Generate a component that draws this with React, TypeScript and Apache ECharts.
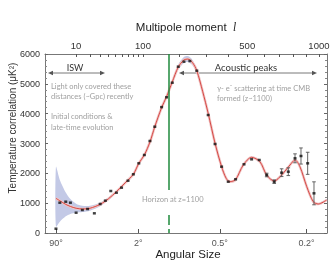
import React, { useEffect, useRef } from "react";
import * as echarts from "echarts";

// x position uses a power-law stretch of the multipole moment l
const P = 0.42;
const u = (l: number) => Math.pow(l, P);

const L_MIN = 0.34;
const L_MAX = 1069;
const Y_MIN = 0;
const Y_MAX = 6000;

// theory curve
const curveL = [2, 3, 5, 7, 10, 14, 20, 30, 40, 51, 65, 80, 91, 103, 116, 128, 146, 160, 177, 196, 215, 229, 245, 262, 285, 308, 338, 368, 390, 408, 437, 478, 525, 574, 616, 665, 715, 774, 811, 848, 901, 953, 994, 1066];
const curveD = [1163, 1080, 960, 890, 830, 805, 830, 960, 1150, 1385, 1680, 1968, 2336, 2615, 3050, 3563, 4200, 4569, 5060, 5560, 5800, 5830, 5720, 5440, 4750, 4012, 3006, 2222, 1830, 1720, 1790, 2279, 2537, 2390, 1944, 1743, 1944, 2279, 2447, 2222, 1552, 1049, 972, 1106];
// cosmic variance band
const bandLow = [212, 380, 560, 640, 680, 700, 750, 900, 1100, 1345, 1640, 1930, 2300, 2580, 3015, 3525, 4160, 4520, 5000, 5470, 5700, 5730, 5630, 5370, 4700, 3975, 2975, 2195, 1805, 1695, 1765, 2250, 2505, 2360, 1915, 1715, 1915, 2250, 2415, 2190, 1520, 1020, 945, 1080];
const bandHigh = [2222, 1780, 1360, 1140, 980, 910, 910, 1020, 1200, 1425, 1720, 2006, 2372, 2650, 3085, 3600, 4240, 4620, 5120, 5650, 5900, 5930, 5810, 5510, 4800, 4050, 3037, 2250, 1855, 1745, 1815, 2308, 2570, 2420, 1973, 1771, 1973, 2308, 2480, 2255, 1585, 1078, 1000, 1132];

// measured points
const dataL = [2, 3, 5, 7, 10, 14, 18, 24, 30, 36, 43, 51, 59, 70, 80, 91, 103, 116, 128, 146, 160, 177, 196, 215, 236, 262, 308, 338, 368, 400, 437, 482, 525, 570, 616, 665, 715, 762, 811, 856, 908, 959];
const dataD = [144, 1016, 1049, 1016, 680, 771, 804, 660, 972, 1083, 1408, 1351, 1519, 1753, 1968, 2336, 2615, 3084, 3563, 4220, 4549, 5038, 5575, 5742, 5765, 5440, 3955, 2983, 2223, 1720, 1800, 2303, 2470, 2447, 1944, 1720, 2022, 2055, 2503, 2581, 2336, 1330];
const dataErr = [0, 0, 0, 0, 0, 0, 0, 0, 0, 0, 0, 0, 0, 0, 0, 0, 0, 0, 0, 0, 0, 0, 0, 0, 0, 0, 0, 0, 0, 0, 0, 0, 0, 0, 60, 60, 130, 130, 150, 270, 370, 385];

// axes
const topLabelL = [10, 100, 500, 1000];
const topTickL = [10, 20, 30, 40, 50, 60, 70, 80, 90, 100, 200, 300, 400, 500, 600, 700, 800, 900, 1000];
const bottomTickL = [2, 90, 360, 900];
const bottomTickLabels = ["90°", "2°", "0.5°", "0.2°"];
const horizonL = 166;
const horizonSolidEnd = 1441;
const horizonDashStart = 600;

const nearestIdx = (arr: number[], v: number) => {
  let best = 0;
  for (let i = 1; i < arr.length; i++) if (Math.abs(arr[i] - v) < Math.abs(arr[best] - v)) best = i;
  return best;
};

const arrow = (x1: number, x2: number, y: number, color: string) => [
  { type: "line", shape: { x1: x1 + 3, y1: y, x2: x2 - 3, y2: y }, style: { stroke: color, lineWidth: 0.8 } },
  { type: "polygon", shape: { points: [[x1, y], [x1 + 5, y - 2.2], [x1 + 5, y + 2.2]] }, style: { fill: color } },
  { type: "polygon", shape: { points: [[x2, y], [x2 - 5, y - 2.2], [x2 - 5, y + 2.2]] }, style: { fill: color } },
];

export default function App() {
  const ref = useRef<HTMLDivElement>(null);
  useEffect(() => {
    if (!ref.current) return;
    const chart = echarts.init(ref.current, null, { renderer: "svg" });
    const topLabelU = topLabelL.map(u);
    const bottomU = bottomTickL.map(u);
    const axisColor = "#777";
    const annFont = "Lato, 'Open Sans', sans-serif";
    const grey = "#a0a0a0";

    const option: any = {
      animation: false,
      grid: { left: 45, right: 5, top: 54, bottom: 27, containLabel: false, outerBoundsMode: "none" },
      xAxis: [
        {
          type: "value",
          position: "bottom",
          min: u(L_MIN),
          max: u(L_MAX),
          axisLine: { show: true, onZero: false, lineStyle: { color: axisColor, width: 1 } },
          axisTick: { show: true, inside: true, length: 4, customValues: bottomU, lineStyle: { color: "#555" } },
          axisLabel: {
            show: true,
            customValues: bottomU,
            formatter: (v: number) => bottomTickLabels[nearestIdx(bottomU, v)],
            color: "#555",
            fontSize: 9,
            fontFamily: "Liberation Sans, Arial, sans-serif",
            margin: 5,
          },
          splitLine: { show: false },
        },
        {
          type: "value",
          position: "top",
          min: u(L_MIN),
          max: u(L_MAX),
          axisLine: { show: true, onZero: false, lineStyle: { color: axisColor, width: 1 } },
          axisTick: { show: true, inside: true, length: 3, customValues: topTickL.map(u), lineStyle: { color: "#555" } },
          axisLabel: {
            show: true,
            customValues: topLabelU,
            formatter: (v: number) => String(topLabelL[nearestIdx(topLabelU, v)]),
            color: "#333",
            fontSize: 9.5,
            fontFamily: "Liberation Sans, Arial, sans-serif",
            margin: 4,
          },
          name: "Multipole moment  {i|l}",
          nameLocation: "middle",
          nameGap: 21,
          nameTextStyle: {
            color: "#222",
            fontSize: 11.5,
            fontFamily: "Liberation Sans, Arial, sans-serif",
            rich: { i: { fontStyle: "italic", fontSize: 11.5, fontFamily: "Liberation Serif, serif", color: "#222" } },
          },
          splitLine: { show: false },
        },
      ],
      yAxis: [
        {
          type: "value",
          position: "left",
          min: Y_MIN,
          max: Y_MAX,
          interval: 1000,
          axisLine: { show: true, lineStyle: { color: axisColor, width: 1 } },
          axisTick: { show: true, inside: true, length: 3, lineStyle: { color: "#666" } },
          minorTick: { show: true, splitNumber: 5, length: 2, lineStyle: { color: "#888" } },
          axisLabel: {
            color: "#333",
            fontSize: 9,
            fontFamily: "Liberation Sans, Arial, sans-serif",
            margin: 5,
            formatter: (v: number) => String(v),
          },
          splitLine: { show: false },
        },
        {
          type: "value",
          position: "right",
          min: Y_MIN,
          max: Y_MAX,
          interval: 1000,
          axisLine: { show: true, lineStyle: { color: axisColor, width: 1 } },
          axisTick: { show: true, inside: true, length: 3, lineStyle: { color: "#666" } },
          minorTick: { show: true, splitNumber: 5, length: 2, lineStyle: { color: "#888" } },
          axisLabel: { show: false },
          splitLine: { show: false },
        },
      ],
      series: [
        {
          type: "custom",
          name: "band",
          z: 1,
          silent: true,
          data: [[u(curveL[0]), bandLow[0]]],
          renderItem: (_params: any, api: any) => {
            const lower = curveL.map((l, i) => api.coord([u(l), bandLow[i]]));
            const upper = curveL.map((l, i) => api.coord([u(l), bandHigh[i]])).reverse();
            return {
              type: "polygon",
              shape: { points: lower.concat(upper), smooth: 0.25 },
              style: { fill: "#c3c9e6", stroke: "none" },
            };
          },
        },
        {
          type: "line",
          name: "halo",
          smooth: 0.3,
          symbol: "none",
          lineStyle: { color: "#f0c6c6", width: 2.6 },
          data: curveL.map((l, i) => [u(l), curveD[i]]),
          silent: true,
          z: 2,
        },
        {
          type: "line",
          name: "theory",
          smooth: 0.3,
          symbol: "none",
          lineStyle: { color: "#d23a35", width: 0.9 },
          data: curveL.map((l, i) => [u(l), curveD[i]]),
          silent: true,
          z: 3,
        },
        {
          type: "custom",
          name: "errors",
          z: 4,
          data: dataL
            .map((l, i) => [u(l), dataD[i] - dataErr[i], dataD[i] + dataErr[i]])
            .filter((_, i) => dataErr[i] > 0),
          renderItem: (_params: any, api: any) => {
            const x = api.value(0);
            const lo = api.coord([x, api.value(1)]);
            const hi = api.coord([x, api.value(2)]);
            const st = { stroke: "#555", lineWidth: 0.9 };
            return {
              type: "group",
              children: [
                { type: "line", shape: { x1: lo[0], y1: lo[1], x2: hi[0], y2: hi[1] }, style: st },
                { type: "line", shape: { x1: lo[0] - 1.8, y1: lo[1], x2: lo[0] + 1.8, y2: lo[1] }, style: st },
                { type: "line", shape: { x1: hi[0] - 1.8, y1: hi[1], x2: hi[0] + 1.8, y2: hi[1] }, style: st },
              ],
            };
          },
        },
        {
          type: "scatter",
          name: "data",
          z: 5,
          symbol: "rect",
          symbolSize: [3, 2.5],
          itemStyle: { color: "#111" },
          data: dataL.map((l, i) => [u(l), dataD[i]]),
          markLine: {
            silent: true,
            symbol: ["none", "none"],
            label: { show: false },
            data: [
              [
                { coord: [u(horizonL), Y_MAX], lineStyle: { color: "#1f8a3c", width: 1.5, type: "solid" } },
                { coord: [u(horizonL), horizonSolidEnd] },
              ],
              [
                { coord: [u(horizonL), horizonDashStart], lineStyle: { color: "#1f8a3c", width: 1.5, type: [10, 4] } },
                { coord: [u(horizonL), Y_MIN] },
              ],
            ],
          },
        },
      ],
      graphic: [
        {
          type: "text",
          x: 12,
          y: 128,
          rotation: Math.PI / 2,
          style: {
            text: "Temperature correlation (μK²)",
            fill: "#333",
            font: "10px 'Liberation Sans', Arial, sans-serif",
            align: "center",
            verticalAlign: "middle",
          },
        },
        {
          type: "text",
          x: 188,
          y: 254,
          style: {
            text: "Angular Size",
            fill: "#222",
            font: "11.5px 'Liberation Sans', Arial, sans-serif",
            align: "center",
            verticalAlign: "middle",
          },
        },
        { type: "text", x: 75, y: 67, style: { text: "ISW", fill: "#333", font: `9px ${annFont}`, align: "center", verticalAlign: "middle" } },
        ...arrow(48, 105, 73, "#555"),
        { type: "text", x: 246, y: 67, style: { text: "Acoustic peaks", fill: "#333", font: `9.5px ${annFont}`, align: "center", verticalAlign: "middle" } },
        ...arrow(179, 317, 73, "#555"),
        { type: "text", x: 51, y: 86, style: { text: "Light only covered these", fill: grey, font: `7.5px ${annFont}`, verticalAlign: "middle" } },
        { type: "text", x: 51, y: 96.5, style: { text: "distances (~Gpc) recently", fill: grey, font: `7.5px ${annFont}`, verticalAlign: "middle" } },
        { type: "text", x: 51, y: 116.5, style: { text: "Initial conditions &", fill: grey, font: `7.5px ${annFont}`, verticalAlign: "middle" } },
        { type: "text", x: 51, y: 127, style: { text: "late-time evolution", fill: grey, font: `7.5px ${annFont}`, verticalAlign: "middle" } },
        { type: "text", x: 217, y: 88, style: { text: "γ- e⁻ scattering at time CMB", fill: grey, font: `7.5px ${annFont}`, verticalAlign: "middle" } },
        { type: "text", x: 217, y: 98.5, style: { text: "formed (z~1100)", fill: grey, font: `7.5px ${annFont}`, verticalAlign: "middle" } },
        { type: "text", x: 142, y: 199, style: { text: "Horizon at z=1100", fill: grey, font: `7.5px ${annFont}`, verticalAlign: "middle" } },
      ],
    };
    chart.setOption(option);
    return () => chart.dispose();
  }, []);
  return <div ref={ref} style={{ position: "fixed", left: 0, top: 0, width: 332, height: 260 }} />;
}
